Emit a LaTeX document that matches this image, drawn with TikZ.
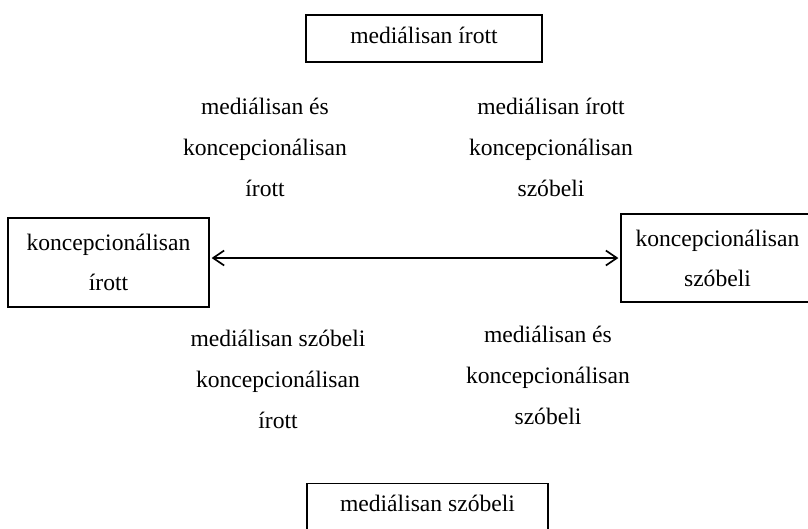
\documentclass[tikz,border=0pt]{standalone}
\usepackage{fontspec}
\setmainfont{Liberation Serif}
\usetikzlibrary{arrows.meta}
\begin{document}
\begin{tikzpicture}[x=1pt,y=-1pt,
  txt/.style={align=center,font=\fontsize{23.6}{41}\selectfont,inner sep=0pt},
  boxtwo/.style={draw,line width=1.3pt,align=center,font=\fontsize{23.6}{40}\selectfont,inner sep=0pt},
  boxone/.style={draw,line width=1.3pt,font=\fontsize{23.6}{28}\selectfont,inner sep=0pt,text height=16pt,text depth=7pt},
  conn/.style={line width=1.7pt,{Straight Barb[length=11pt,width=15pt]}-{Straight Barb[length=11pt,width=15pt]},shorten <=2pt,shorten >=2pt}]
\useasboundingbox (0,0) rectangle (808,528);
\clip (0,0) rectangle (808,528);
\node[boxone,minimum width=236pt,minimum height=47pt] (top) at (424,38.5) {mediálisan írott};
\node[boxone,minimum width=241pt,minimum height=47pt] (bot) at (427.5,507) {mediálisan szóbeli};
\node[boxtwo,minimum width=201pt,minimum height=89pt] (lbox) at (108.5,262.5) {koncepcionálisan\\írott};
\node[boxtwo,minimum width=193pt,minimum height=88pt] (rbox) at (717.5,258) {koncepcionálisan\\szóbeli};
\node[txt] (tl) at (265,147) {mediálisan és\\koncepcionálisan\\írott};
\node[txt] (tr) at (551,147) {mediálisan írott\\koncepcionálisan\\szóbeli};
\node[txt] (bl) at (278,379) {mediálisan szóbeli\\koncepcionálisan\\írott};
\node[txt] (br) at (548,375) {mediálisan és\\koncepcionálisan\\szóbeli};
\draw[conn] (lbox.east |- rbox.west) -- (rbox.west);
\end{tikzpicture}
\end{document}
